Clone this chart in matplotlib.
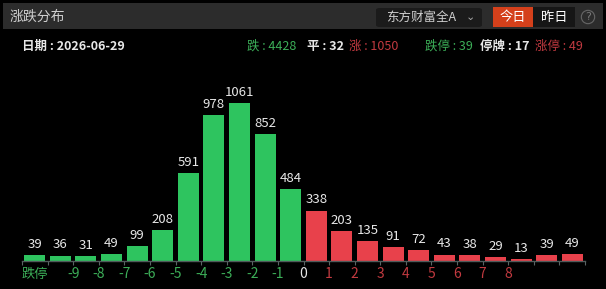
import matplotlib
matplotlib.use("Agg")
import matplotlib.pyplot as plt
from matplotlib.patches import FancyBboxPatch, Rectangle

plt.rcParams['font.family'] = ['Noto Sans CJK SC', 'DejaVu Sans']

# data
counts = [39, 36, 31, 49, 99, 208, 591, 978, 1061, 852, 484,
          338, 203, 135, 91, 72, 43, 38, 29, 13, 39, 49]
n_down = 11  # first 11 bins are falling
limit_down_label = '跌停'
boundary_labels = ['-9', '-8', '-7', '-6', '-5', '-4', '-3', '-2', '-1',
                   '0', '1', '2', '3', '4', '5', '6', '7', '8']
title = '涨跌分布'
date_text = '日期 : 2026-06-29'
index_name = '东方财富全A'
stats = [('跌 : 4428', 'down'), ('平 : 32', 'flat'), ('涨 : 1050', 'up'),
         ('跌停 : 39', 'down'), ('停牌 : 17', 'flat'), ('涨停 : 49', 'up')]

GREEN = '#2ec45f'
RED = '#e8414b'
TXT_GREEN = '#3cae58'
TXT_RED = '#c23a40'
WHITE = '#e8e8e8'
stat_colors = {'down': TXT_GREEN, 'flat': WHITE, 'up': TXT_RED}

W, H = 606, 289
fig = plt.figure(figsize=(W / 100, H / 100), dpi=100, facecolor='black')


def fx(x):
    return x / W


def fy(y):
    return 1 - y / H


# header band
fig.patches.append(Rectangle((fx(3), fy(29)), fx(600), 26 / H, transform=fig.transFigure,
                             facecolor='#2c2c2c', edgecolor='none'))
fig.text(fx(10), fy(17), title, color='#cfcfcf', fontsize=10, va='center', ha='left')

# dropdown
fig.patches.append(FancyBboxPatch((fx(376), fy(27)), fx(106), 19 / H, transform=fig.transFigure,
                                  boxstyle='round,pad=0,rounding_size=0.006',
                                  facecolor='#1b1b1b', edgecolor='none'))
fig.text(fx(386), fy(17.5), index_name, color='#d0d0d0', fontsize=9, va='center', ha='left')
fig.text(fx(470), fy(17), '⌄', color='#aaaaaa', fontsize=8, va='center', ha='center',
         family='DejaVu Sans')

# buttons
fig.patches.append(Rectangle((fx(493), fy(27)), fx(40), 20 / H, transform=fig.transFigure,
                             facecolor='#d4401b', edgecolor='none'))
fig.text(fx(513), fy(17.5), '今日', color='white', fontsize=9.5, va='center', ha='center')
fig.patches.append(Rectangle((fx(533), fy(27)), fx(42), 20 / H, transform=fig.transFigure,
                             facecolor='#161616', edgecolor='none'))
fig.text(fx(554), fy(17.5), '昨日', color='white', fontsize=9.5, va='center', ha='center')
fig.text(fx(588), fy(17), '?', color='#777777', fontsize=8, va='center', ha='center',
         family='DejaVu Sans',
         bbox=dict(boxstyle='circle,pad=0.15', facecolor='none', edgecolor='#666666', lw=0.8))

# info row
fig.text(fx(22), fy(46.5), date_text, color=WHITE, fontsize=9, va='center', ha='left',
         weight='bold')
stat_x = [247, 307, 349, 425, 480, 535]
for (s, kind), x in zip(stats, stat_x):
    fig.text(fx(x), fy(46.5), s, color=stat_colors[kind], fontsize=9, va='center', ha='left',
             weight='bold' if kind == 'flat' else 'normal')

# chart
ax = fig.add_axes([fx(22), 28 / H, 563 / W, 200 / H])
ax.set_facecolor('black')
colors = [GREEN if i < n_down else RED for i in range(len(counts))]
xs = list(range(len(counts)))
ax.bar(xs, counts, width=0.82, color=colors, zorder=2)
for x, v in zip(xs, counts):
    ax.annotate(str(v), (x, v), xytext=(0, 3), textcoords='offset points',
                ha='center', va='bottom', color=WHITE, fontsize=9.5)

ymax = 200 / 0.149
ax.set_xlim(-0.5, len(counts) - 0.5)
ax.set_ylim(0, ymax)
for s in ['top', 'right', 'left']:
    ax.spines[s].set_visible(False)
ax.spines['bottom'].set_color('#4f5a5a')
ax.spines['bottom'].set_linewidth(1)
ax.set_yticks([])

# tick marks on every bin boundary
bounds = [i - 0.5 for i in range(len(counts) + 1)]
ax.set_xticks(bounds)
ax.set_xticklabels([])
ax.tick_params(axis='x', length=3, width=0.8, color='#5a6464')

# labels: limit-down under first bar, others on boundaries
px_to_data = ymax / 200
label_y = -13 * px_to_data
ax.text(0, label_y, limit_down_label, color=TXT_GREEN, fontsize=9.5,
        ha='center', va='center', clip_on=False)
for k, lab in enumerate(boundary_labels):
    v = int(lab)
    c = TXT_GREEN if v < 0 else (WHITE if v == 0 else TXT_RED)
    ax.text(1.5 + k, label_y, lab, color=c, fontsize=10,
            ha='center', va='center', clip_on=False)

fig.savefig('out.png', dpi=100, facecolor='black')
